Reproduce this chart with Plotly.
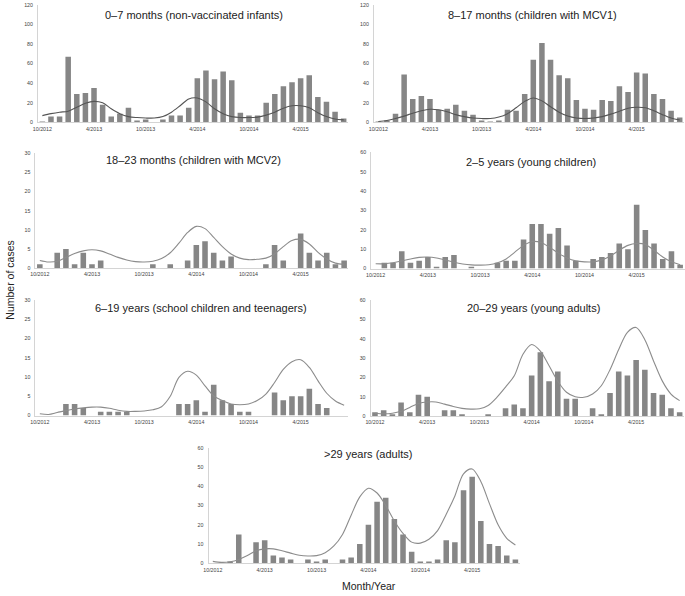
import plotly.graph_objects as go

W, H = 685, 596

months = ["10/2012", "11/2012", "12/2012", "1/2013", "2/2013", "3/2013", "4/2013", "5/2013", "6/2013",
          "7/2013", "8/2013", "9/2013", "10/2013", "11/2013", "12/2013", "1/2014", "2/2014", "3/2014",
          "4/2014", "5/2014", "6/2014", "7/2014", "8/2014", "9/2014", "10/2014", "11/2014", "12/2014",
          "1/2015", "2/2015", "3/2015", "4/2015", "5/2015", "6/2015", "7/2015", "8/2015", "9/2015"]
tick_labels = ["10/2012", "4/2013", "10/2013", "4/2014", "10/2014", "4/2015"]

titles = ["0\u20137 months (non-vaccinated infants)",
          "8\u201317 months (children with MCV1)",
          "18\u201323 months (children with MCV2)",
          "2\u20135 years (young children)",
          "6\u201319 years (school children and teenagers)",
          "20\u201329 years (young adults)",
          ">29 years (adults)"]

cases_0_7m = [1, 6, 6, 67, 29, 30, 35, 18, 6, 9, 15, 2, 3, 0, 3, 7, 7, 15, 45, 53, 44, 52, 43, 10, 7, 7, 20, 29, 37, 41, 45, 48, 26, 21, 11, 4]
expected_0_7m = [7, 9, 10.5, 11.5, 15.5, 19.5, 21.5, 20, 14, 9, 6, 5, 4.5, 4.5, 6, 10.5, 17, 24, 25, 21, 14, 9, 6, 5, 5, 5.5, 7.5, 10.5, 14.5, 17, 17, 15, 10, 6, 3.5, 2.7]

cases_8_17m = [1, 2, 9, 49, 24, 27, 24, 13, 14, 18, 12, 8, 2, 1, 2, 13, 12, 29, 64, 81, 64, 48, 45, 23, 14, 13, 23, 22, 37, 31, 51, 50, 29, 24, 12, 5]
expected_8_17m = [1, 2, 4, 6.5, 9.5, 12, 13.5, 13, 11, 8, 6, 4.5, 4, 4, 5.5, 9, 15, 21.5, 25, 22, 16, 10.5, 6.5, 4.5, 4, 4.5, 6, 8.5, 11.5, 14.5, 15.5, 15, 12, 8, 4.5, 2.5]

cases_18_23m = [1, 0, 4, 5, 1, 4, 1, 2, 0, 0, 0, 0, 0, 1, 0, 1, 0, 2, 6, 7, 4, 2, 3, 0, 0, 0, 1, 6, 2, 0, 9, 4, 2, 4, 1, 2]
expected_18_23m = [2, 1.6, 1.8, 2.8, 3.8, 4.5, 4.8, 4.5, 3.7, 2.8, 2.1, 1.7, 1.6, 1.8, 2.5, 4, 6.5, 9.3, 10.9, 10.3, 8, 5.6, 3.7, 2.6, 2.2, 2.3, 2.6, 3.7, 5.6, 7.2, 7.5, 6.3, 4.1, 2.4, 1.3, 1]

cases_2_5y = [0, 3, 3, 9, 3, 4, 6, 1, 6, 7, 0, 1, 0, 0, 3, 4, 4, 15, 23, 23, 18, 21, 12, 4, 0, 5, 6, 8, 13, 10, 33, 20, 13, 5, 9, 2]
expected_2_5y = [2.5, 2.5, 3, 4, 5, 5.8, 6, 5.5, 4.5, 3.3, 2.4, 1.9, 1.8, 2, 3, 5, 8.5, 12, 14, 13.5, 11, 8, 5.5, 4, 3.5, 3.5, 4.5, 6.5, 9.5, 12, 13, 12.5, 9.5, 6, 3.5, 2]

cases_6_19y = [0, 0, 0, 3, 3, 2, 0, 1, 1, 1, 1, 0, 0, 0, 0, 0, 3, 3, 4, 1, 8, 4, 3, 1, 1, 0, 0, 6, 4, 5, 5, 7, 3, 2, 0, 0]
expected_6_19y = [0.5, 0.3, 0.8, 1.3, 1.7, 2, 2.2, 2.2, 1.9, 1.4, 1.1, 1.1, 1.2, 1.5, 2.3, 5, 9.9, 11.5, 10.5, 7.7, 5.1, 3.9, 3, 2.8, 3, 3.9, 5.6, 8.6, 12, 14, 14.5, 12.5, 9, 5.8, 3.8, 2.7]

cases_20_29y = [2, 3, 1, 7, 2, 11, 10, 0, 3, 3, 1, 0, 0, 1, 0, 4, 6, 4, 21, 33, 18, 23, 9, 9, 0, 4, 1, 12, 23, 21, 29, 24, 12, 11, 4, 2]
expected_20_29y = [1.5, 1.2, 1.5, 2.5, 4.5, 6.5, 7.3, 7.3, 6.2, 5, 4, 3.6, 3.8, 5.5, 9.7, 15, 20.8, 32, 37, 33.6, 26, 18, 12.3, 10, 9.7, 11.4, 15.7, 24, 34.4, 43.3, 45.8, 39.5, 28.5, 18.2, 11.4, 8]

cases_over29y = [0, 0, 1, 15, 0, 11, 12, 4, 3, 2, 0, 2, 1, 2, 0, 2, 3, 10, 20, 32, 34, 23, 15, 6, 1, 1, 2, 12, 11, 38, 45, 22, 10, 9, 4, 2]
expected_over29y = [1, 0.5, 0.8, 2, 4, 6.5, 7.5, 7.5, 6.5, 5.3, 4.2, 3.8, 4, 5.5, 9, 15, 25, 34.5, 39, 36.5, 30, 22, 15.5, 11, 10.5, 12.5, 17, 25.5, 35, 46.5, 49, 42.5, 31, 20, 13, 9.5]

y_max = [120, 120, 30, 60, 30, 60, 60]
y_step = [20, 20, 5, 10, 5, 10, 10]

bars_all = [cases_0_7m, cases_8_17m, cases_18_23m, cases_2_5y, cases_6_19y, cases_20_29y, cases_over29y]
lines_all = [expected_0_7m, expected_8_17m, expected_18_23m, expected_2_5y, expected_6_19y, expected_20_29y, expected_over29y]

# pixel boxes: (x_left, x_right, y_top, y_bottom)
boxes = [(33.3, 345.5, 1.7, 120.7),
         (371.7, 684.0, 1.7, 120.7),
         (30.7, 346.0, 151.7, 267.8),
         (369.0, 684.5, 151.0, 268.3),
         (30.7, 346.0, 300.0, 416.8),
         (368.3, 684.0, 300.0, 417.3),
         (205.0, 518.5, 449.3, 566.0)]
title_pos = [(190, 12), (531, 12), (190, 158.5), (530, 161), (197, 308), (532, 308), (366, 456)]
line_colors = ["#555555", "#555555", "#8c8c8c", "#8c8c8c", "#8c8c8c", "#8c8c8c", "#8c8c8c"]

FONT = "Liberation Sans, Arial, sans-serif"
fig = go.Figure()
layout = dict(width=W, height=H, margin=dict(l=0, r=0, t=0, b=0), autosize=False,
              paper_bgcolor="white", plot_bgcolor="white", showlegend=False,
              bargap=0.36, font=dict(family=FONT, color="#333333"))
annotations = []

for k in range(7):
    xa = "x" if k == 0 else f"x{k+1}"
    ya = "y" if k == 0 else f"y{k+1}"
    fig.add_trace(go.Bar(x=months, y=bars_all[k], marker=dict(color="#868686", line=dict(width=0)),
                         xaxis=xa, yaxis=ya, hoverinfo="skip"))
    fig.add_trace(go.Scatter(x=months, y=lines_all[k], mode="lines",
                             line=dict(color=line_colors[k], width=1.1, shape="spline", smoothing=0.9),
                             xaxis=xa, yaxis=ya, hoverinfo="skip"))
    x0, x1, yt, yb = boxes[k]
    xname = "xaxis" if k == 0 else f"xaxis{k+1}"
    yname = "yaxis" if k == 0 else f"yaxis{k+1}"
    layout[xname] = dict(domain=[x0 / W, x1 / W], anchor=ya, type="category",
                         categoryorder="array", categoryarray=months,
                         range=[-0.5, len(months) - 0.5],
                         tickmode="array", tickvals=tick_labels, ticktext=tick_labels,
                         showline=True, linecolor="#d4d4d4", linewidth=1, showgrid=False,
                         ticks="", tickfont=dict(size=5.3, color="#444444"), ticklabelstandoff=1,
                         fixedrange=True)
    layout[yname] = dict(domain=[1 - yb / H, 1 - yt / H], anchor=xa,
                         range=[0, y_max[k]], tickmode="array",
                         tickvals=list(range(0, y_max[k] + 1, y_step[k])),
                         showline=True, linecolor="#d4d4d4", linewidth=1, showgrid=False,
                         zeroline=False, ticks="", tickfont=dict(size=5.3, color="#444444"),
                         ticklabelstandoff=3, fixedrange=True)
    tx, ty = title_pos[k]
    annotations.append(dict(text=titles[k], x=tx / W, y=1 - ty / H, xref="paper", yref="paper",
                            showarrow=False, xanchor="center", yanchor="middle",
                            font=dict(size=11, color="#222222", family=FONT)))

annotations.append(dict(text="Number of cases", x=5.5 / W, y=1 - 280 / H, xref="paper", yref="paper",
                        showarrow=False, textangle=-90, xanchor="center", yanchor="middle",
                        font=dict(size=10.5, color="#222222", family=FONT)))
annotations.append(dict(text="Month/Year", x=367 / W, y=0.5 / H, xref="paper", yref="paper",
                        showarrow=False, xanchor="center", yanchor="bottom", borderpad=0,
                        font=dict(size=10.5, color="#222222", family=FONT)))
layout["annotations"] = annotations
fig.update_layout(**layout)
fig.write_html("out.html", config={"displayModeBar": False, "staticPlot": True},
               post_script="document.body.style.margin='0px';document.body.style.overflow='hidden';")
